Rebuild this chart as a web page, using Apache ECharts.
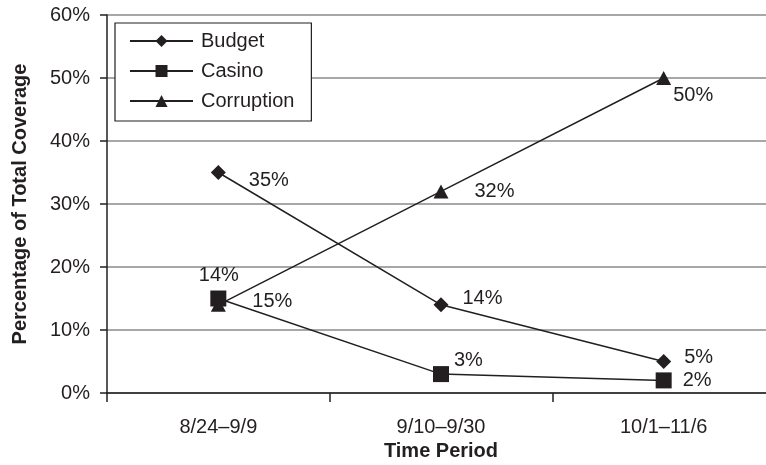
<!DOCTYPE html>
<html>
<head>
<meta charset="utf-8">
<script src="https://cdn.jsdelivr.net/npm/echarts@6/dist/echarts.min.js"></script>
<style>
  html, body { margin: 0; padding: 0; background: #fff; }
  #chart { width: 766px; height: 465px; }
</style>
</head>
<body>
<div id="chart"></div>
<script>
// Share of total coverage by topic over three time periods
const periods = ['8/24–9/9', '9/10–9/30', '10/1–11/6'];
const budget = [35, 14, 5];
const casino = [15, 3, 2];
const corruption = [14, 32, 50];
const yTicks = [0, 10, 20, 30, 40, 50, 60];

const INK = '#231f20';
const FONT = '"Liberation Sans", Arial, Helvetica, sans-serif';

// label placement per point, relative to the marker's right edge
const budgetLabelOffsets = [[23, 8], [14, -6], [13, -4]];
const casinoLabelOffsets = [[26, 3], [5, -14], [11, 0]];
const corruptionLabelOffsets = [[-27, -29], [26, 0], [2, 17]];

function buildSeries(name, values, symbol, size, offsets) {
  return {
    name: name,
    type: 'line',
    data: values.map((v, i) => ({
      value: v,
      label: { offset: offsets[i] }
    })),
    symbol: symbol,
    symbolSize: size,
    itemStyle: { color: INK },
    lineStyle: { color: INK, width: 1.5 },
    label: {
      show: true,
      position: 'right',
      distance: 0,
      formatter: '{c}%',
      color: INK,
      fontSize: 20,
      fontFamily: FONT
    },
    emphasis: { disabled: true },
    animation: false
  };
}

const chart = echarts.init(document.getElementById('chart'), null, { renderer: 'canvas' });
chart.setOption({
  backgroundColor: '#ffffff',
  animation: false,
  textStyle: { fontFamily: FONT, color: INK },
  // plot runs slightly past the right edge of the canvas
  grid: { left: 107, width: 668, top: 15, bottom: 72, containLabel: false, outerBoundsMode: 'none' },
  legend: {
    orient: 'vertical',
    left: 115,
    top: 23,
    padding: [8, 17, 10, 14],
    itemWidth: 63,
    itemHeight: 15,
    itemGap: 10,
    backgroundColor: '#ffffff',
    borderColor: INK,
    borderWidth: 1.2,
    textStyle: { fontSize: 20, color: INK, fontFamily: FONT, padding: [0, 0, 0, 3] },
    data: ['Budget', 'Casino', 'Corruption']
  },
  xAxis: {
    type: 'category',
    data: periods,
    boundaryGap: true,
    name: 'Time Period',
    nameLocation: 'middle',
    nameGap: 43,
    nameTextStyle: { fontSize: 20, fontWeight: 'bold', color: INK, fontFamily: FONT },
    axisLine: { lineStyle: { color: INK, width: 1.5 } },
    axisTick: { show: true, length: 9, lineStyle: { color: INK, width: 1.5 } },
    axisLabel: { fontSize: 20, color: INK, margin: 24, fontFamily: FONT },
    splitLine: { show: false }
  },
  yAxis: {
    type: 'value',
    min: yTicks[0],
    max: yTicks[yTicks.length - 1],
    interval: yTicks[1] - yTicks[0],
    name: 'Percentage of Total Coverage',
    nameLocation: 'middle',
    nameGap: 77,
    nameTextStyle: { fontSize: 20, fontWeight: 'bold', color: INK, fontFamily: FONT },
    axisLine: { show: true, lineStyle: { color: INK, width: 1.5 } },
    axisTick: { show: true, length: 7, lineStyle: { color: INK, width: 1.5 } },
    axisLabel: { fontSize: 20, color: INK, margin: 17, formatter: '{value}%', fontFamily: FONT },
    splitLine: { show: true, lineStyle: { color: '#8a8a8a', width: 1.5 } }
  },
  series: [
    buildSeries('Budget', budget, 'diamond', 15, budgetLabelOffsets),
    buildSeries('Casino', casino, 'rect', 16, casinoLabelOffsets),
    buildSeries('Corruption', corruption, 'triangle', [15, 14], corruptionLabelOffsets)
  ]
});
</script>
</body>
</html>
